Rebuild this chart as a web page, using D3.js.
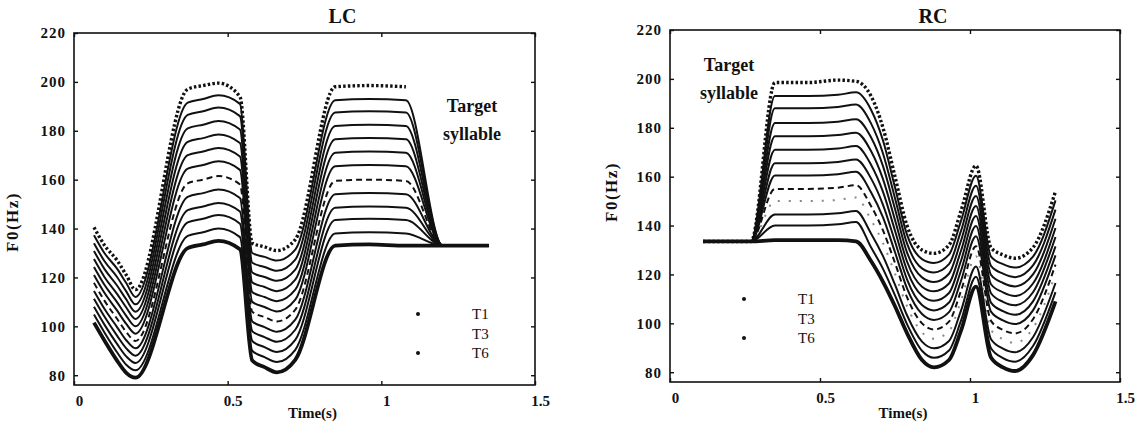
<!DOCTYPE html>
<html>
<head>
<meta charset="utf-8">
<script src="https://cdn.jsdelivr.net/npm/d3@7"></script>
<style>
  body { margin: 0; background: #fff; }
</style>
</head>
<body>
<div id="chart"></div>
<script>
const FONT = '"Liberation Serif", "Times New Roman", serif';

// axes
const xTicks = [0, 0.5, 1, 1.5];
const xTickLabels = ["0", "0.5", "1", "1.5"];
const yTicks = [80, 100, 120, 140, 160, 180, 200, 220];
const legendLabels = ["T1", "T3", "T6"];
const legendDots = [true, false, true];

// LC : time (s) and F0 (Hz), one row per contour, top to bottom
const lcTime = [0.065, 0.10, 0.14, 0.17, 0.20, 0.37, 0.42, 0.47, 0.54, 0.58, 0.62, 0.66, 0.72, 0.85, 0.96, 1.08, 1.20, 1.35];
const lcF0 = [
  [140.5, 133, 127, 121, 115, 197, 198.5, 199.5, 194, 134, 132.5, 131, 135.5, 198, 198.5, 198, null, null],
  [137.3, 129.8, 123.6, 117.7, 112, 191.5, 193, 194.5, 191, 130, 128.4, 126.9, 131.4, 192.5, 193, 192.5, 133, 133],
  [134, 126.5, 120.2, 114.3, 109, 186.5, 188, 189.5, 186, 126, 124.3, 122.7, 127.3, 187.5, 188, 187.5, 133, 133],
  [130.8, 123.3, 116.7, 111, 106, 181, 182.5, 184, 180.5, 122, 120.2, 118.6, 123.2, 182, 182.5, 182, 133, 133],
  [127.5, 120, 113.3, 107.7, 103, 175.5, 177, 178.5, 175, 118, 116.1, 114.4, 119.1, 176.5, 177, 176.5, 133, 133],
  [124.3, 116.8, 109.9, 104.3, 100, 170, 171.5, 173, 169.5, 114, 112, 110.3, 115, 171, 171.5, 171, 133, 133],
  [121, 113.5, 106.5, 101, 97, 164.5, 166, 167.5, 164, 110, 107.9, 106.1, 110.9, 165.5, 166, 165.5, 133, 133],
  [117.8, 110.3, 103.1, 97.7, 94, 158.5, 160, 161.5, 158, 106, 103.8, 102, 106.8, 159.5, 160, 159.5, 133, 133],
  [114.5, 107, 99.7, 94.3, 91, 153, 154.5, 156, 152.5, 102, 99.7, 97.8, 102.7, 154, 154.5, 154, 133, 133],
  [111.3, 103.8, 96.2, 91, 88, 147.5, 149, 150.5, 147, 98, 95.6, 93.7, 98.6, 148.5, 149, 148.5, 133, 133],
  [108, 100.5, 92.8, 87.7, 85, 142.5, 144, 145.5, 142, 94, 91.5, 89.5, 94.5, 143.5, 144, 143.5, 133, 133],
  [104.8, 97.3, 89.4, 84.3, 82, 137, 138.5, 140, 136.5, 90, 87.4, 85.4, 90.4, 138, 138.5, 138, 133, 133],
  [101.5, 94, 86, 81, 79, 132, 133.5, 135, 131.5, 86, 83.3, 81.2, 86.3, 133, 133.5, 133, 133, 133]
];

// RC
const rcTime = [0.11, 0.27, 0.35, 0.46, 0.56, 0.62, 0.67, 0.71, 0.75, 0.79, 0.84, 0.88, 0.93, 0.97, 1.02, 1.07, 1.11, 1.15, 1.21, 1.285];
const rcF0 = [
  [133.5, 133.5, 198.5, 198.5, 199.5, 199, 193, 180, 160, 140, 130, 128.6, 132, 146, 164.5, 131, 128, 126.6, 131, 154],
  [133.5, 133.5, 193, 193, 193.5, 194.5, 187.4, 174.8, 155.6, 136.3, 126.3, 124.7, 128.1, 141.9, 160.4, 127.3, 124.2, 122.8, 127.3, 150.3],
  [133.5, 133.5, 188, 188, 188.5, 189.5, 181.8, 169.5, 151.2, 132.7, 122.5, 120.8, 124.2, 137.8, 156.3, 123.5, 120.3, 118.9, 123.7, 146.5],
  [133.5, 133.5, 182, 182, 182.5, 183.5, 176.1, 164.3, 146.8, 129, 118.8, 116.9, 120.3, 133.8, 152.1, 119.8, 116.5, 115.1, 120, 142.8],
  [133.5, 133.5, 176.5, 176.5, 177, 178, 170.5, 159, 142.3, 125.3, 115, 113.1, 116.3, 129.7, 148, 116, 112.7, 111.2, 116.3, 139],
  [133.5, 133.5, 171, 171, 171.5, 172.5, 164.9, 153.8, 137.9, 121.7, 111.3, 109.2, 112.4, 125.6, 143.9, 112.3, 108.8, 107.4, 112.7, 135.3],
  [133.5, 133.5, 165.5, 165.5, 166, 167, 159.3, 148.5, 133.5, 118, 107.5, 105.3, 108.5, 121.5, 139.8, 108.5, 105, 103.5, 109, 131.5],
  [133.5, 133.5, 160.5, 160.5, 161, 162, 153.6, 143.3, 129.1, 114.3, 103.8, 101.4, 104.6, 117.4, 135.6, 104.8, 101.2, 99.7, 105.3, 127.8],
  [133.5, 133.5, 155, 155, 155.5, 156.5, 148, 138, 124.7, 110.7, 100, 97.5, 100.7, 113.3, 131.5, 101, 97.3, 95.9, 101.7, 124],
  [133.5, 133.5, 150, 150, 150.5, 151.5, 142.4, 132.8, 120.3, 107, 96.3, 93.7, 96.8, 109.3, 127.4, 97.3, 93.5, 92, 98, 120.3],
  [133.5, 133.5, 144.5, 144.5, 145, 146, 136.8, 127.5, 115.8, 103.3, 92.5, 89.8, 92.8, 105.2, 123.3, 93.5, 89.7, 88.2, 94.3, 116.5],
  [133.5, 133.5, 140, 140, 140.5, 141.5, 131.1, 122.3, 111.4, 99.7, 88.8, 85.9, 88.9, 101.1, 119.1, 89.8, 85.8, 84.3, 90.7, 112.8],
  [133.5, 133.5, 134, 134, 134, 133.5, 125.5, 117, 107, 96, 85, 82, 85, 97, 115, 86, 82, 80.5, 87, 109]
];

const svg = d3.select("#chart").append("svg")
    .attr("width", 1143)
    .attr("height", 427);

function panel(o) {
    const x = d3.scaleLinear().domain([0, 1.5]).range([o.left, o.right]);
    const y = d3.scaleLinear().domain([76, 220]).range([o.bottom, o.top]);
    const g = svg.append("g");

    // curves
    const line = d3.line()
        .defined(d => d[1] != null)
        .x(d => x(d[0]))
        .y(d => y(d[1]))
        .curve(d3.curveMonotoneX);

    const last = o.f0.length - 1;
    o.f0.forEach((row, i) => {
        const pts = o.time.map((t, j) => [t, row[j]]);
        const p = g.append("path")
            .attr("d", line(pts))
            .attr("fill", "none")
            .attr("stroke", "#111")
            .attr("stroke-linejoin", "round")
            .attr("stroke-width", 2);
        if (i == 0) {
            p.attr("stroke-width", 3.4).attr("stroke-dasharray", "2.5,2.2");
        } else if (i == last) {
            p.attr("stroke-width", 3.8);
        } else if (i == o.dashed) {
            p.attr("stroke-dasharray", "6,4");
        } else if (i == o.faint) {
            p.attr("stroke-dasharray", "2,9").attr("stroke-opacity", 0.5);
        }
    });

    // frame + inward ticks
    g.append("rect")
        .attr("x", o.left).attr("y", o.top)
        .attr("width", o.right - o.left).attr("height", o.bottom - o.top)
        .attr("fill", "none").attr("stroke", "#111").attr("stroke-width", 1.6);

    const yAxis = g.append("g")
        .attr("transform", `translate(${o.left},0)`)
        .call(d3.axisLeft(y).tickValues(yTicks).tickSize(-4).tickPadding(8));
    yAxis.select(".domain").remove();
    yAxis.selectAll("text")
        .style("font-size", "15px").style("font-weight", "bold")
        .style("letter-spacing", "1px").attr("fill", "#111");

    const xAxis = g.append("g")
        .attr("transform", `translate(0,${o.bottom})`)
        .call(d3.axisBottom(x).tickValues(xTicks).tickSize(-4).tickPadding(10)
            .tickFormat((d, i) => xTickLabels[i]));
    xAxis.select(".domain").remove();
    xAxis.selectAll("text")
        .attr("dx", 5)
        .style("font-size", "15px").style("font-weight", "bold").attr("fill", "#111");

    g.append("g").attr("transform", `translate(${o.right},0)`)
        .call(d3.axisRight(y).tickValues(yTicks).tickSize(-4).tickFormat(""))
        .select(".domain").remove();
    g.append("g").attr("transform", `translate(0,${o.top})`)
        .call(d3.axisTop(x).tickValues(xTicks).tickSize(-4).tickFormat(""))
        .select(".domain").remove();
    g.selectAll(".tick line").attr("stroke", "#111").attr("stroke-width", 1.4);

    // title and axis labels
    g.append("text")
        .attr("x", (o.left + o.right) / 2 + 38)
        .attr("y", 23)
        .attr("text-anchor", "middle")
        .style("font-size", "20px").style("font-weight", "bold")
        .text(o.title);

    g.append("text")
        .attr("x", (o.left + o.right) / 2 + 8)
        .attr("y", 418)
        .attr("text-anchor", "middle")
        .style("font-size", "15px").style("font-weight", "bold")
        .text("Time(s)");

    g.append("text")
        .attr("transform", `translate(${o.yLabel[0]},${o.yLabel[1]}) rotate(-90)`)
        .attr("text-anchor", "middle")
        .style("font-size", "17px").style("font-weight", "bold")
        .style("letter-spacing", "1.5px")
        .text("F0(Hz)");

    // annotation
    const note = g.append("text")
        .attr("text-anchor", "middle")
        .style("font-size", "18px").style("font-weight", "bold");
    note.append("tspan").attr("x", o.note[0]).attr("y", o.note[1]).text("Target");
    note.append("tspan").attr("x", o.note[0]).attr("y", o.note[1] + 28).text("syllable");

    // legend
    legendLabels.forEach((lab, i) => {
        const ly = o.legend[1] + i * 19.5;
        if (legendDots[i]) {
            g.append("circle")
                .attr("cx", o.legend[0]).attr("cy", ly)
                .attr("r", 2).attr("fill", "#111");
        }
        g.append("text")
            .attr("x", o.legend[0] + 54).attr("y", ly + 5)
            .style("font-size", "15px")
            .text(lab);
    });
}

panel({
    left: 74, right: 535, top: 33, bottom: 385,
    time: lcTime, f0: lcF0, title: "LC",
    dashed: 7, faint: -1,
    yLabel: [18, 222], note: [472, 112], legend: [418, 314]
});

panel({
    left: 670, right: 1120, top: 30, bottom: 382,
    time: rcTime, f0: rcF0, title: "RC",
    dashed: 8, faint: 9,
    yLabel: [617, 192], note: [729, 71], legend: [744, 299]
});

svg.selectAll("text")
    .style("font-family", FONT)
    .attr("fill", "#111");
</script>
</body>
</html>
